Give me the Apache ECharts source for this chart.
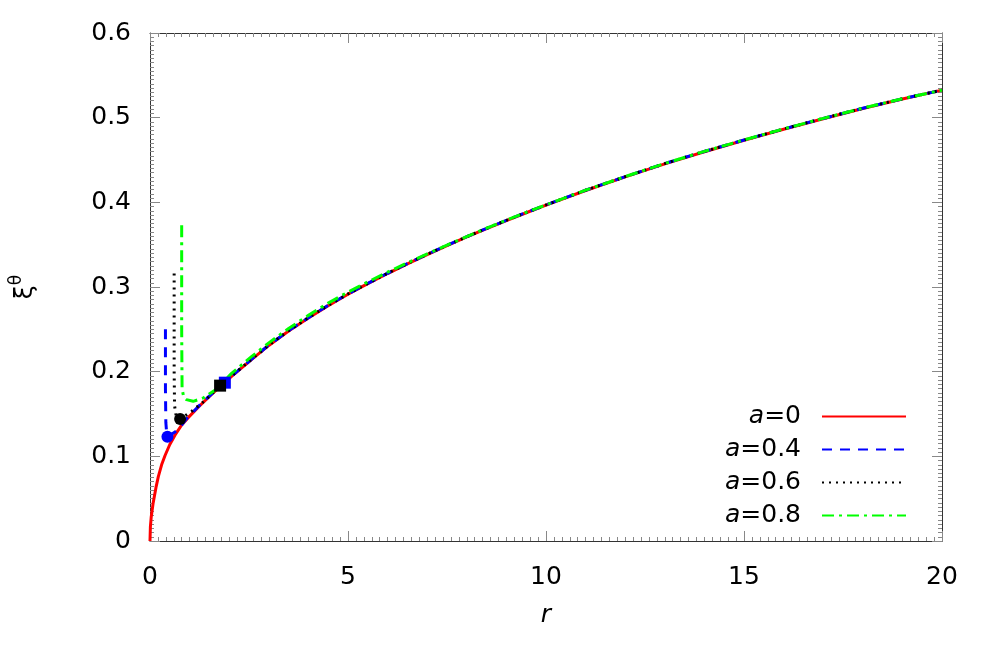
<!DOCTYPE html>
<html><head><meta charset="utf-8">
<script src="https://cdn.jsdelivr.net/npm/echarts@6/dist/echarts.min.js"></script>
<style>html,body{margin:0;padding:0;background:#fff}#c{width:997px;height:648px}</style>
</head><body><div id="c"></div>
<script>
// ---- data ----
const seriesNames = ['a=0', 'a=0.4', 'a=0.6', 'a=0.8'];
const xTickLabels = ['0', '5', '10', '15', '20'];
const yTickLabels = ['0', '0.1', '0.2', '0.3', '0.4', '0.5', '0.6'];

const r_a0  = [0, 0.01, 0.03, 0.08, 0.15, 0.21, 0.3, 0.38, 0.5, 0.63, 0.8, 0.97, 1.25, 1.56, 2.06, 2.57, 3, 3.5, 4, 4.5, 5, 5.5, 6, 6.5, 7, 7.5, 8, 8.5, 9, 9.5, 10, 11, 12, 13, 14, 15, 16, 17, 18, 19, 20];
const xi_a0 = [0, 0.017, 0.028, 0.045, 0.063, 0.076, 0.091, 0.101, 0.114, 0.125, 0.137, 0.146, 0.1595, 0.1735, 0.1945, 0.2145, 0.231, 0.248, 0.2635, 0.278, 0.2915, 0.304, 0.3159, 0.3273, 0.3383, 0.3489, 0.3591, 0.369, 0.3785, 0.3877, 0.3966, 0.414, 0.430, 0.4455, 0.4598, 0.4733, 0.4863, 0.4988, 0.5108, 0.522, 0.5325];

const r_a4  = [0.39, 0.39, 0.40, 0.42, 0.44, 0.7, 0.95, 1.3, 1.89, 2.57, 3, 3.5, 4, 4.5, 5, 5.5, 6, 6.5, 7, 7.5, 8, 8.5, 9, 9.5, 10, 11, 12, 13, 14, 15, 16, 17, 18, 19, 20];
const xi_a4 = [0.25, 0.18, 0.14, 0.128, 0.123, 0.131, 0.146, 0.1625, 0.188, 0.2148, 0.2313, 0.2483, 0.2638, 0.2783, 0.2918, 0.3043, 0.3162, 0.3276, 0.3386, 0.3492, 0.3594, 0.3693, 0.3788, 0.388, 0.3969, 0.4143, 0.4303, 0.4458, 0.4601, 0.4736, 0.4866, 0.4991, 0.5111, 0.5223, 0.5325];

const r_a6  = [0.61, 0.61, 0.62, 0.66, 0.76, 1.05, 1.39, 1.77, 2.57, 3, 3.5, 4, 4.5, 5, 5.5, 6, 6.5, 7, 7.5, 8, 8.5, 9, 9.5, 10, 11, 12, 13, 14, 15, 16, 17, 18, 19, 20];
const xi_a6 = [0.316, 0.2, 0.16, 0.148, 0.144, 0.153, 0.166, 0.1835, 0.2148, 0.2313, 0.2483, 0.2638, 0.2783, 0.2918, 0.3043, 0.3162, 0.3276, 0.3386, 0.3492, 0.3594, 0.3693, 0.3788, 0.388, 0.3969, 0.4143, 0.4303, 0.4458, 0.4601, 0.4736, 0.4866, 0.4991, 0.5111, 0.5223, 0.5325];

const r_a8  = [0.80, 0.80, 0.81, 0.85, 0.92, 1.09, 1.35, 1.64, 2.06, 2.57, 3, 3.5, 4, 4.5, 5, 5.5, 6, 6.5, 7, 7.5, 8, 8.5, 9, 9.5, 10, 11, 12, 13, 14, 15, 16, 17, 18, 19, 20];
const xi_a8 = [0.373, 0.25, 0.18, 0.17, 0.167, 0.165, 0.169, 0.178, 0.198, 0.218, 0.234, 0.251, 0.2665, 0.281, 0.294, 0.306, 0.3175, 0.3285, 0.339, 0.3495, 0.3596, 0.3695, 0.379, 0.3881, 0.397, 0.4144, 0.4304, 0.4459, 0.4602, 0.4737, 0.4867, 0.4992, 0.5112, 0.5224, 0.5325];

// special points (circles and squares)
const circle_a4 = [0.44, 0.123];
const circle_a6 = [0.76, 0.144];
const square_a4 = [1.89, 0.187];
const square_a6 = [1.77, 0.1835];

// ---- chart ----
const zip = (xs, ys) => xs.map((x, i) => [x, ys[i]]);
const FONT = 'DejaVu Sans';
const colors = ['#ff0000', '#0000ff', '#000000', '#00ff00'];
const dashes = ['solid', [10, 8], [2, 5], [12, 5, 3, 5]];
const lineData = [zip(r_a0, xi_a0), zip(r_a4, xi_a4), zip(r_a6, xi_a6), zip(r_a8, xi_a8)];

const frameColor = '#333';
const tickColor = '#888';
function xAxisDef(pos, showLabel) {
  return {
    type: 'value', position: pos, min: 0, max: 20, interval: 5,
    axisLine: { show: true, onZero: false, lineStyle: { color: frameColor, width: 1 } },
    axisTick: { show: true, inside: true, length: 10, lineStyle: { color: tickColor } },
    minorTick: { show: true, splitNumber: 25, length: 4, lineStyle: { color: tickColor } },
    splitLine: { show: false },
    axisLabel: { show: showLabel, fontFamily: FONT, fontSize: 25, color: '#000', margin: 24,
      formatter: v => xTickLabels[Math.round(v / 5)] },
    name: showLabel ? 'r' : '', nameLocation: 'middle', nameGap: 62,
    nameTextStyle: { fontFamily: FONT, fontSize: 25, fontStyle: 'italic', color: '#000' }
  };
}
function yAxisDef(pos, showLabel) {
  return {
    type: 'value', position: pos, min: 0, max: 0.6, interval: 0.1,
    axisLine: { show: true, onZero: false, lineStyle: { color: frameColor, width: 1 } },
    axisTick: { show: true, inside: true, length: 10, lineStyle: { color: tickColor } },
    minorTick: { show: true, splitNumber: 20, length: 4, lineStyle: { color: tickColor } },
    splitLine: { show: false },
    axisLabel: { show: showLabel, fontFamily: FONT, fontSize: 25, color: '#000', margin: 19,
      formatter: v => yTickLabels[Math.round(v * 10)] },
    name: showLabel ? '{x|ξ}{s|θ}' : '', nameLocation: 'middle', nameGap: 112, nameRotate: 90,
    nameTextStyle: { color: '#000', rich: {
      x: { fontFamily: FONT, fontSize: 25, lineHeight: 30, verticalAlign: 'bottom' },
      s: { fontFamily: FONT, fontSize: 17, lineHeight: 30, verticalAlign: 'top', padding: [0, 0, 12, 0] }
    } }
  };
}

const series = seriesNames.map((n, i) => ({
  name: n, type: 'line', xAxisIndex: 0, yAxisIndex: 0,
  data: lineData[i], symbol: 'none', showSymbol: false, smooth: false, z: 2 + i,
  lineStyle: { color: colors[i], width: 3, type: dashes[i] }, itemStyle: { color: colors[i] },
  animation: false
}));
const markerDefs = [
  ['c4', circle_a4, 'circle', '#0000ff', 10],
  ['c6', circle_a6, 'circle', '#000000', 10],
  ['s4', square_a4, 'rect', '#0000ff', 10],
  ['s6', square_a6, 'rect', '#000000', 11]
];
markerDefs.forEach(([n, p, sym, col, z]) => series.push({
  name: n, type: 'scatter', data: [p], symbol: sym, symbolSize: 12,
  itemStyle: { color: col, opacity: 1 }, emphasis: { disabled: true }, z: z, animation: false
}));

const chart = echarts.init(document.getElementById('c'), null, { renderer: 'canvas' });
chart.setOption({
  animation: false,
  backgroundColor: '#fff',
  grid: { left: 150, right: 55, top: 33, bottom: 107, containLabel: false },
  xAxis: [xAxisDef('bottom', true), xAxisDef('top', false)],
  yAxis: [yAxisDef('left', true), yAxisDef('right', false)],
  legend: {
    data: seriesNames, orient: 'vertical', align: 'right', right: 85, top: 399,
    itemWidth: 84, itemHeight: 12, itemGap: 8,
    selectedMode: false,
    itemStyle: { color: 'rgba(0,0,0,0)', borderWidth: 0, opacity: 0 },
    formatter: n => '{i|a}{t|' + n.slice(1) + '}{g|}',
    textStyle: { color: '#000', rich: {
      i: { fontFamily: FONT, fontSize: 25, fontStyle: 'italic' },
      t: { fontFamily: FONT, fontSize: 25 },
      g: { width: 16 }
    } }
  },
  series: series
});
</script>
</body></html>
